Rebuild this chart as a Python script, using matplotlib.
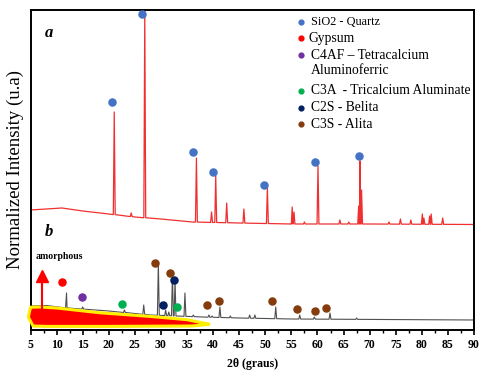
import matplotlib
matplotlib.use("Agg")
import matplotlib.pyplot as plt
import numpy as np

plt.rcParams['font.family'] = ['Liberation Serif', 'DejaVu Serif']

# --- pattern a (red, top) : background knots and peaks (2theta, intensity)
bg_a_x = [5, 8, 11, 15, 20, 25, 30, 36, 45, 55, 70, 90]
bg_a_y = [120, 121, 122, 119, 116, 113, 111, 108, 107, 106, 106, 105.5]
pk_a_x = [21.05, 24.3, 26.9, 36.8, 39.7, 40.5, 42.6, 45.9, 50.4, 55.15, 55.5, 57.5,
          60.1, 64.3, 66.0, 67.9, 68.15, 68.45, 73.7, 75.9, 77.9, 80.1, 80.4, 81.5,
          81.8, 84.0]
pk_a_y = [218, 117, 319, 172, 118, 154, 127, 121, 142, 123, 118, 108,
          164, 110, 108, 124, 169, 140, 108, 111, 110, 116, 112, 114,
          116, 112]

# --- pattern b (black, bottom)
bg_b_x = [5, 8, 12, 20, 28, 38, 45, 55, 90]
bg_b_y = [24, 24.5, 22, 19, 15, 13, 12, 11, 10]
pk_b_x = [11.9, 15.0, 23.0, 26.7, 29.5, 30.9, 31.5, 32.2, 32.7, 34.6, 36.2, 39.2,
          39.8, 41.3, 43.3, 47.0, 48.0, 52.0, 56.6, 59.4, 62.4, 67.5]
pk_b_y = [37, 23, 20, 25, 68, 20, 18, 57, 50, 37, 15, 15,
          14, 23, 14, 15, 15, 23, 15, 13, 17, 12]

# --- phase markers
quartz_x = [20.55, 26.3, 36.2, 40.0, 49.8, 59.5, 67.9]
quartz_y = [228, 316, 178, 158, 145, 168, 174]
gypsum_x, gypsum_y = [11.1], [48]
c4af_x, c4af_y = [14.8], [33]
c3a_x, c3a_y = [22.6, 33.0], [26, 23]
c2s_x, c2s_y = [30.3, 32.5], [25, 50]
c3s_x = [28.85, 31.7, 38.8, 41.05, 51.2, 56.0, 59.6, 61.6]
c3s_y = [67, 57, 25, 29, 29, 21, 19, 22]

legend_labels = ["SiO2 - Quartz", "Gypsum", "C4AF \u2013 Tetracalcium\nAluminoferric",
                 "C3A  - Tricalcium Aluminate", "C2S - Belita", "C3S - Alita"]
legend_colors = ["#4472C4", "#FF0000", "#7030A0", "#00B050", "#002060", "#843C0C"]

# amorphous hump outline
amor_x = [5.05, 6.8, 10, 18.3, 27.9, 35.0, 39.4, 36, 20, 8, 5.5, 4.6, 4.8]
amor_y = [22.8, 23, 22, 17.2, 13.6, 10.3, 5.7, 4.0, 3.6, 3.6, 4.0, 12.7, 18.5]

# amorphous arrow (2theta, bottom, top)
arrow_x, arrow_y0, arrow_y1 = 7.15, 20, 52


def profile(bx, by, px, py, w=0.18):
    xs = list(bx)
    ys = list(by)
    for x, y in zip(px, py):
        b = np.interp(x, bx, by)
        xs += [x - w, x, x + w]
        ys += [b, y, b]
    order = np.argsort(xs, kind="stable")
    return np.array(xs)[order], np.array(ys)[order]


fig = plt.figure(figsize=(4.89, 3.73), dpi=100)
ax = fig.add_axes([0.0624, 0.1153, 0.9069, 0.8579])

xa, ya = profile(bg_a_x, bg_a_y, pk_a_x, pk_a_y)
ax.plot(xa, ya, color="#F03030", lw=0.9)
xb, yb = profile(bg_b_x, bg_b_y, pk_b_x, pk_b_y)
ax.plot(xb, yb, color="#505050", lw=0.8)

ax.fill(amor_x, amor_y, facecolor="#FF0000", edgecolor="#FFEE00", lw=2.2, clip_on=False, zorder=3)
# arrow: shaft + triangle head
ax.plot([arrow_x, arrow_x], [arrow_y0, arrow_y1], color="#FF0000", lw=1.5, zorder=5)
ax.plot([arrow_x], [arrow_y1 + 1.5], marker="^", ms=8, color="#FF0000", zorder=5)
ax.text(5.9, 73, "amorphous", fontsize=7, fontweight="bold", va="center")

ms = 26
ax.scatter(quartz_x, quartz_y, s=ms, color=legend_colors[0], zorder=4)
ax.scatter(gypsum_x, gypsum_y, s=ms, color=legend_colors[1], zorder=4)
ax.scatter(c4af_x, c4af_y, s=ms, color=legend_colors[2], zorder=4)
ax.scatter(c3a_x, c3a_y, s=ms, color=legend_colors[3], zorder=4)
ax.scatter(c2s_x, c2s_y, s=ms, color=legend_colors[4], zorder=4)
ax.scatter(c3s_x, c3s_y, s=ms, color=legend_colors[5], zorder=4)

# hand-made legend
leg_y = [308, 291.7, 267, 239.3, 222.3, 205.7]
for i, (lab, col, y) in enumerate(zip(legend_labels, legend_colors, leg_y)):
    tx = 58.2 if i == 1 else 58.75
    dot_y = 275 if i == 2 else y
    ax.scatter([56.8], [dot_y], s=12, color=col, zorder=4)
    ax.text(tx, y, lab, fontsize=8.8 if i == 0 else 9.8, va="center", linespacing=1.2)

ax.text(7.8, 297, "a", fontsize=12, fontweight="bold", fontstyle="italic", va="center")
ax.text(7.8, 98, "b", fontsize=12, fontweight="bold", fontstyle="italic", va="center")

ax.set_xlim(5, 90)
ax.set_ylim(0, 320)
ax.set_xticks(np.arange(5, 91, 5))
ax.set_xticks(np.arange(7.5, 90, 5), minor=True)
ax.set_yticks([])
ax.tick_params(axis="x", which="major", direction="out", length=3.5, width=1.2, labelsize=8.5, pad=3)
ax.tick_params(axis="x", which="minor", direction="out", length=2.5, width=1)
for lab in ax.get_xticklabels():
    lab.set_fontweight("bold")
for s in ax.spines.values():
    s.set_linewidth(1.4)

ax.set_xlabel("2\u03b8 (graus)", fontsize=8.5, fontweight="bold", labelpad=5)
ax.set_ylabel("Normalized Intensity (u.a)", fontsize=13.5, labelpad=5)

fig.savefig("out.png", dpi=100)
